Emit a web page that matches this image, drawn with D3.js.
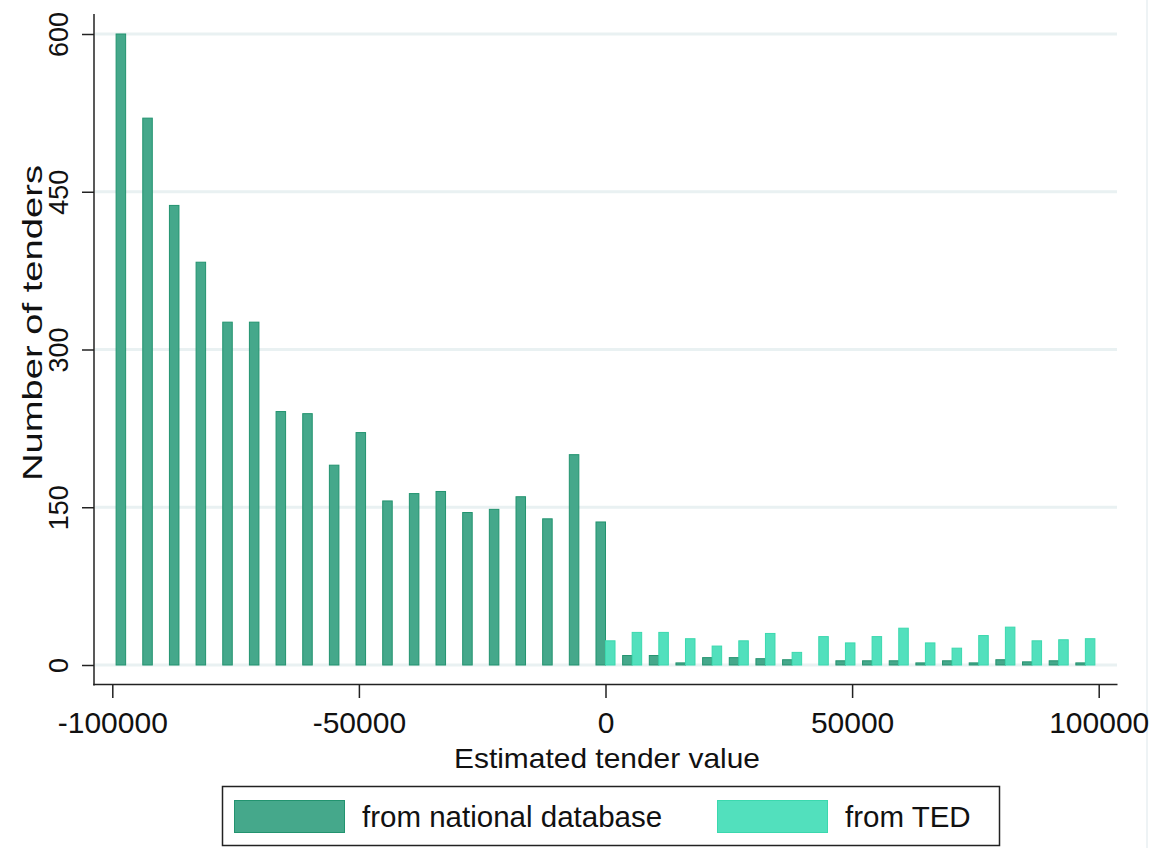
<!DOCTYPE html>
<html>
<head>
<meta charset="utf-8">
<script src="https://cdn.jsdelivr.net/npm/d3@7"></script>
<style>
  html, body { margin: 0; padding: 0; background: #fff; }
  svg { display: block; font-family: "Liberation Sans", Arial, sans-serif; }
</style>
</head>
<body>
<svg id="chart" width="1152" height="848"></svg>
<script>
// Histogram of estimated tender values: 37 equal bins over [-100000, 100000]
const binStart = -100000;
const binEnd = 100000;
const binCount = 37;

// Counts per bin, left to right
const nationalCounts = [600, 520, 437, 383, 326, 326, 241, 239, 190, 221, 156, 163, 165, 145, 148, 160, 139, 200, 136,
                        9, 9, 2, 7, 7, 6, 5, 0, 4, 4, 4, 2, 4, 2, 5, 3, 4, 2];
const tedCounts = [0, 0, 0, 0, 0, 0, 0, 0, 0, 0, 0, 0, 0, 0, 0, 0, 0, 0,
                   23, 31, 31, 25, 18, 23, 30, 12, 27, 21, 27, 35, 21, 16, 28, 36, 23, 24, 25];

const xTicks = [-100000, -50000, 0, 50000, 100000];
const yTicks = [0, 150, 300, 450, 600];

const seriesNames = ["from national database", "from TED"];
const seriesColors = ["#45a88b", "#52e0bd"];
const seriesStrokes = ["#22936f", "#3bd8ae"];

const svg = d3.select("#chart");

const x = d3.scaleLinear().domain([binStart, binEnd]).range([112.3, 1098.7]);
const y = d3.scaleLinear().domain([0, 600]).range([665, 34]);

const binWidth = (binEnd - binStart) / binCount;
const bins = d3.range(binCount).map(i => ({
  center: binStart + binWidth * (i + 0.5),
  national: nationalCounts[i],
  ted: tedCounts[i]
}));
const barWidth = binWidth * 0.357;

// faint outer frame line at the right
svg.append("line")
  .attr("x1", 1147).attr("x2", 1147).attr("y1", 0).attr("y2", 848)
  .attr("stroke", "#eef3f5").attr("stroke-width", 2);

// horizontal gridlines
svg.append("g").selectAll("line").data(yTicks).join("line")
  .attr("x1", 95).attr("x2", 1117)
  .attr("y1", d => y(d)).attr("y2", d => y(d))
  .attr("stroke", "#e9f1f2").attr("stroke-width", 3);

// national bars sit left of each bin centre, TED bars to the right
svg.append("g").selectAll("rect").data(bins.filter(b => b.national > 0)).join("rect")
  .attr("x", d => x(d.center - barWidth))
  .attr("width", d => x(d.center) - x(d.center - barWidth))
  .attr("y", d => y(d.national))
  .attr("height", d => y(0) - y(d.national))
  .attr("fill", seriesColors[0])
  .attr("stroke", seriesStrokes[0]).attr("stroke-width", 1);

svg.append("g").selectAll("rect").data(bins.filter(b => b.ted > 0)).join("rect")
  .attr("x", d => x(d.center))
  .attr("width", d => x(d.center + barWidth) - x(d.center))
  .attr("y", d => y(d.ted))
  .attr("height", d => y(0) - y(d.ted))
  .attr("fill", seriesColors[1])
  .attr("stroke", seriesStrokes[1]).attr("stroke-width", 1);

// axes
const axisColor = "#222";
const plainFormat = d => String(d);

const yAxis = svg.append("g").attr("transform", "translate(94,0)")
  .call(d3.axisLeft(y).tickValues(yTicks).tickSize(12).tickFormat(plainFormat));
yAxis.select(".domain").remove();
yAxis.selectAll(".tick line").attr("stroke", axisColor).attr("stroke-width", 1.5);
yAxis.selectAll(".tick text")
  .attr("x", null).attr("dy", null)
  .attr("transform", "rotate(-90)")
  .attr("y", -26)
  .attr("text-anchor", "middle")
  .attr("font-size", 27)
  .attr("fill", "#111")
  .attr("font-family", "Liberation Sans, Arial, sans-serif");
svg.append("line").attr("x1", 94).attr("x2", 94).attr("y1", 14).attr("y2", 685.5)
  .attr("stroke", axisColor).attr("stroke-width", 1.5);

const xAxis = svg.append("g").attr("transform", "translate(0,685)")
  .call(d3.axisBottom(x).tickValues(xTicks).tickSize(13).tickFormat(plainFormat));
xAxis.select(".domain").remove();
xAxis.selectAll(".tick line").attr("stroke", axisColor).attr("stroke-width", 1.5);
xAxis.selectAll(".tick text")
  .attr("y", 48).attr("dy", null)
  .attr("font-size", 30)
  .attr("fill", "#111")
  .attr("font-family", "Liberation Sans, Arial, sans-serif");
svg.append("line").attr("x1", 93.25).attr("x2", 1117.5).attr("y1", 684.5).attr("y2", 684.5)
  .attr("stroke", axisColor).attr("stroke-width", 1.5);

// axis titles
svg.append("text")
  .attr("transform", "translate(42,323) rotate(-90)")
  .attr("text-anchor", "middle")
  .attr("font-size", 28)
  .attr("fill", "#111")
  .attr("textLength", 316)
  .attr("lengthAdjust", "spacingAndGlyphs")
  .text("Number of tenders");

svg.append("text")
  .attr("x", 607).attr("y", 768)
  .attr("text-anchor", "middle")
  .attr("font-size", 28)
  .attr("fill", "#111")
  .attr("textLength", 306)
  .attr("lengthAdjust", "spacingAndGlyphs")
  .text("Estimated tender value");

// legend
const legend = svg.append("g");
legend.append("rect")
  .attr("x", 222.5).attr("y", 786.5).attr("width", 777).attr("height", 59)
  .attr("fill", "#fff").attr("stroke", "#222").attr("stroke-width", 1.5);
const legendItems = [
  { sx: 234, tx: 362 },
  { sx: 717, tx: 845 }
];
legendItems.forEach((it, i) => {
  legend.append("rect")
    .attr("x", it.sx + 0.5).attr("y", 800.5).attr("width", 110).attr("height", 32)
    .attr("fill", seriesColors[i]).attr("stroke", seriesStrokes[i]).attr("stroke-width", 1);
  legend.append("text")
    .attr("x", it.tx).attr("y", 827)
    .attr("font-size", 29.5)
    .attr("fill", "#111")
    .text(seriesNames[i]);
});
</script>
</body>
</html>
